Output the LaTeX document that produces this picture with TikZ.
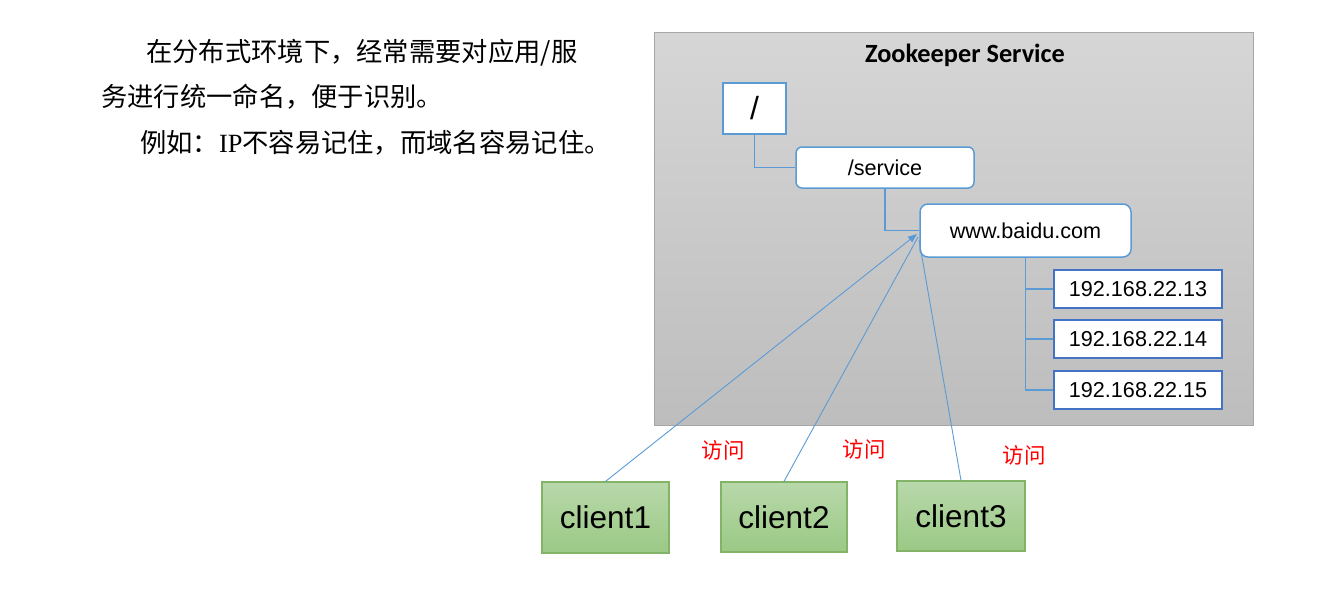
\documentclass[tikz,border=0pt]{standalone}
\usepackage{fontspec}
\setmainfont{Liberation Sans}
\newfontfamily\cjk{Noto Sans CJK SC}
\newfontfamily\carlito{Carlito}
\newfontfamily\serifen{Liberation Serif}
\usetikzlibrary{shadings,arrows.meta}
\definecolor{linkblue}{HTML}{5B9BD5}
\definecolor{ipblue}{HTML}{4472C4}
\definecolor{zkborder}{HTML}{A6A6A6}
\definecolor{cliborder}{HTML}{82B366}
\definecolor{clitop}{HTML}{B8D8AA}
\definecolor{clibot}{HTML}{9BC985}
\definecolor{zktop}{HTML}{D6D6D6}
\definecolor{zkbot}{HTML}{BDBDBD}
\tikzset{
  treebox/.style={draw=linkblue, line width=1.5pt, fill=white, inner sep=0pt, font=\fontsize{21.6}{25}\selectfont},
  ipbox/.style={draw=ipblue, line width=2pt, fill=white, inner sep=0pt, minimum width=168pt, minimum height=38pt, font=\fontsize{21.6}{25}\selectfont},
  clientbox/.style={draw=cliborder, line width=1.2pt, top color=clitop, bottom color=clibot, inner sep=0pt, font=\fontsize{31.5}{36}\selectfont},
  link/.style={draw=linkblue, line width=1.1pt},
  access/.style={draw=linkblue, line width=0.9pt},
  visit/.style={text=red, font=\cjk\fontsize{21.5}{25}\selectfont, inner sep=0pt},
  para/.style={font=\cjk\fontsize{26.3}{30}\selectfont, inner sep=0pt, anchor=west},
}
\begin{document}
\begin{tikzpicture}[x=1pt,y=-1pt]
\useasboundingbox (0,0) rectangle (1337,590);
% Zookeeper service area
\node[draw=zkborder, line width=1pt, top color=zktop, bottom color=zkbot, minimum width=599pt, minimum height=393pt, inner sep=0pt] (zk) at (953.5,228.5) {};
\node[font=\carlito\bfseries\fontsize{26.3}{30}\selectfont, inner sep=0pt] (title) at (965,55) {Zookeeper Service};
% tree
\node[treebox, minimum width=63pt, minimum height=51pt, font=\fontsize{32}{36}\selectfont] (root) at (754.5,108.5) {/};
\node[treebox, rounded corners=6pt, minimum width=178pt, minimum height=41pt] (service) at (885,167.5) {/service};
\node[treebox, rounded corners=8pt, minimum width=211pt, minimum height=53pt] (www) at (1025.5,230.5) {www.baidu.com};
\node[ipbox] (ip1) at (1138,289) {192.168.22.13};
\node[ipbox] (ip2) at (1138,339) {192.168.22.14};
\node[ipbox] (ip3) at (1138,390) {192.168.22.15};
\draw[link] (root.south) |- (service.west);
\draw[link] (service.south) |- (www.west);
\draw[link] (www.south) |- (ip1.west);
\draw[link] (www.south) |- (ip2.west);
\draw[link] (www.south) |- (ip3.west);
% clients
\node[clientbox, minimum width=127pt, minimum height=71pt] (c1) at (605.5,517.5) {client1};
\node[clientbox, minimum width=126pt, minimum height=70pt] (c2) at (784,517) {client2};
\node[clientbox, minimum width=128pt, minimum height=70pt] (c3) at (961,516) {client3};
\coordinate (t1) at (917,234);
\coordinate (t2) at (918,237);
\coordinate (t3) at (919,240);
\draw[access, -{Triangle[length=9pt,width=7pt]}] (c1.north) -- (t1);
\draw[access] (c2.north) -- (t2);
\draw[access] (c3.north) -- (t3);
\node[visit] (v1) at (723,450) {访问};
\node[visit] (v2) at (864,449) {访问};
\node[visit] (v3) at (1024,455) {访问};
% paragraph
\node[para] (l1) at (146,53) {在分布式环境下，经常需要对应用/服};
\node[para] (l2) at (101,97) {务进行统一命名，便于识别。};
\node[para] (l3) at (140,143) {例如：{\serifen IP}不容易记住，而域名容易记住。};
\end{tikzpicture}
\end{document}
